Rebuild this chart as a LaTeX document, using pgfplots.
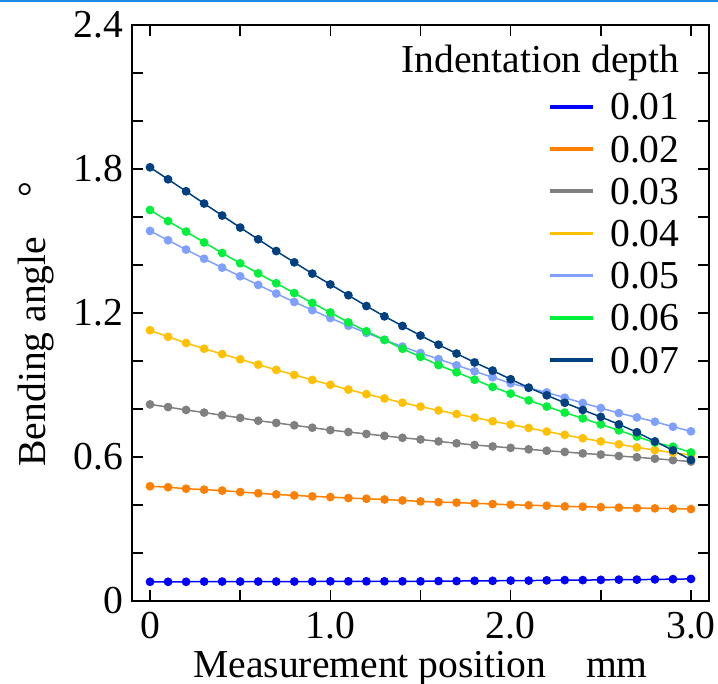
\documentclass[border=0pt]{standalone}
\usepackage{fontspec}
\setmainfont{Liberation Serif}
\usepackage{pgfplots}
\usepackage{pgfplotstable}
\pgfplotsset{compat=1.18}
\definecolor{cA}{RGB}{0,0,255}
\definecolor{cB}{RGB}{255,128,0}
\definecolor{cC}{RGB}{128,128,128}
\definecolor{cD}{RGB}{255,192,0}
\definecolor{cE}{RGB}{128,160,255}
\definecolor{cF}{RGB}{0,240,60}
\definecolor{cG}{RGB}{0,64,128}
\definecolor{topline}{RGB}{30,136,229}
\newcommand\fs{\fontsize{19.8pt}{23pt}\selectfont}
\pgfplotstableread{
x a b c d e f g
0.0 0.080 0.478 0.819 1.128 1.542 1.629 1.807
0.1 0.080 0.474 0.808 1.101 1.503 1.583 1.757
0.2 0.080 0.468 0.796 1.075 1.464 1.539 1.707
0.3 0.081 0.464 0.785 1.051 1.426 1.494 1.656
0.4 0.081 0.460 0.774 1.029 1.389 1.450 1.606
0.5 0.081 0.454 0.763 1.007 1.353 1.407 1.556
0.6 0.081 0.449 0.751 0.985 1.317 1.365 1.507
0.7 0.081 0.444 0.742 0.963 1.281 1.324 1.458
0.8 0.081 0.440 0.732 0.942 1.246 1.283 1.411
0.9 0.081 0.436 0.722 0.921 1.212 1.242 1.364
1.0 0.082 0.433 0.712 0.901 1.179 1.202 1.319
1.1 0.082 0.429 0.704 0.881 1.147 1.161 1.274
1.2 0.082 0.426 0.696 0.862 1.117 1.124 1.229
1.3 0.082 0.423 0.688 0.844 1.088 1.088 1.186
1.4 0.082 0.419 0.680 0.826 1.060 1.051 1.146
1.5 0.082 0.415 0.673 0.810 1.033 1.017 1.106
1.6 0.083 0.412 0.665 0.794 1.008 0.983 1.068
1.7 0.083 0.410 0.657 0.779 0.982 0.953 1.031
1.8 0.084 0.407 0.650 0.764 0.957 0.922 0.994
1.9 0.084 0.404 0.644 0.749 0.932 0.892 0.960
2.0 0.085 0.401 0.638 0.735 0.907 0.864 0.924
2.1 0.085 0.399 0.632 0.721 0.888 0.836 0.889
2.2 0.086 0.397 0.626 0.706 0.869 0.810 0.857
2.3 0.087 0.394 0.621 0.692 0.847 0.785 0.826
2.4 0.087 0.393 0.615 0.678 0.825 0.761 0.796
2.5 0.088 0.391 0.610 0.665 0.804 0.736 0.767
2.6 0.089 0.389 0.604 0.653 0.783 0.711 0.736
2.7 0.089 0.387 0.599 0.640 0.765 0.685 0.703
2.8 0.090 0.386 0.593 0.629 0.747 0.660 0.665
2.9 0.091 0.385 0.587 0.618 0.726 0.643 0.628
3.0 0.092 0.383 0.581 0.608 0.707 0.619 0.588
}\datatable
\begin{document}
\begin{tikzpicture}
\path[use as bounding box] (-66pt,-41.5pt) rectangle (293pt,300.5pt);
\begin{axis}[
 scale only axis, width=288.5pt, height=288pt,
 xmin=-0.1, xmax=3.1, ymin=0, ymax=2.4,
 axis line style={line width=0.9pt},
 xtick={0,1,2,3}, xticklabels={0,1.0,2.0,3.0},
 minor xtick={0.5,1.5,2.5},
 ytick={0,0.6,1.2,1.8,2.4}, yticklabels={0,0.6,1.2,1.8,2.4},
 minor ytick={0.2,0.4,0.8,1.0,1.4,1.6,2.0,2.2},
 tick align=inside, major tick length=5.5pt, minor tick length=5.5pt,
 every tick/.style={black, line width=0.8pt},
 /pgf/number format/assume math mode=true,
 tick label style={font=\fs},
 xticklabel style={yshift=-2.0pt},
 yticklabel style={xshift=-1.0pt},
 xlabel={Measurement position\hspace{1em}mm},
 ylabel={Bending angle\hspace{1em}°},
 label style={font=\fs},
 xlabel style={at={(axis description cs:0.5,-0.132)}, anchor=base},
 ylabel style={at={(axis description cs:-0.166,0.481)}, anchor=center},
 legend style={draw=none, fill=none, at={(rel axis cs:0.9497,0.8811)}, anchor=north east, inner sep=0pt, font=\fs, row sep=8.1pt, column sep=7.5pt, nodes={inner sep=0pt, text height=13pt, text depth=0pt}},
 legend cell align=left,
 legend image code/.code={\draw[line width=1.8pt] (0pt,0pt) -- (21.5pt,0pt);},
 every axis plot/.append style={line width=0.75pt, mark=*, mark size=1.8pt},
]
\addplot[color=cA] table[x=x,y=a]{\datatable}; \addlegendentry{0.01}
\addplot[color=cB] table[x=x,y=b]{\datatable}; \addlegendentry{0.02}
\addplot[color=cC] table[x=x,y=c]{\datatable}; \addlegendentry{0.03}
\addplot[color=cD] table[x=x,y=d]{\datatable}; \addlegendentry{0.04}
\addplot[color=cE] table[x=x,y=e]{\datatable}; \addlegendentry{0.05}
\addplot[color=cF] table[x=x,y=f]{\datatable}; \addlegendentry{0.06}
\addplot[color=cG] table[x=x,y=g]{\datatable}; \addlegendentry{0.07}
\node[anchor=base east, inner sep=0pt, font=\fs] at (rel axis cs:0.9497,0.918) {Indentation depth};
\end{axis}
\draw[color=topline, line width=0.8pt] (-66pt,300.1pt) -- (293pt,300.1pt);
\end{tikzpicture}
\end{document}
